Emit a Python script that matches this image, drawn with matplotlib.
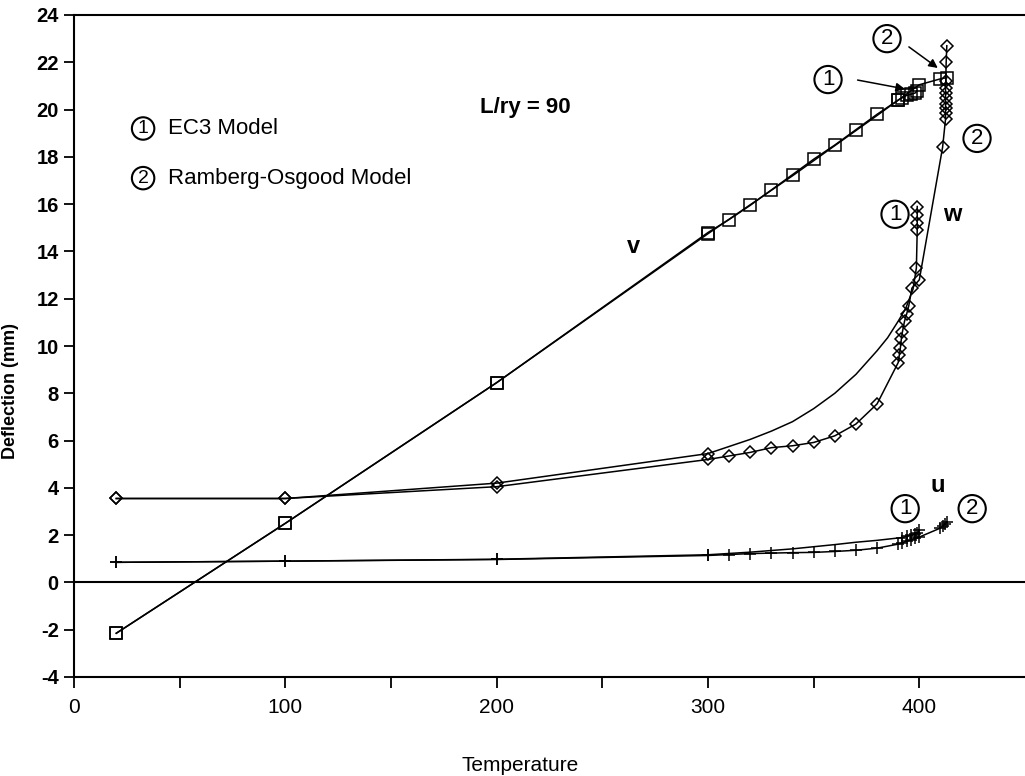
import matplotlib
matplotlib.use("Agg")
import matplotlib.pyplot as plt

plt.rcParams["font.family"] = ["Liberation Sans", "DejaVu Sans"]
plt.rcParams["axes.unicode_minus"] = False

# ---- data -------------------------------------------------------------
# lateral deflection v (squares)
temp_v_ro = [20, 100, 200, 300, 310, 320, 330, 340, 350, 360, 370, 380, 390, 400, 410, 413]
v_ro = [-2.15, 2.5, 8.45, 14.8, 15.35, 15.95, 16.6, 17.25, 17.9, 18.5, 19.15, 19.8, 20.4, 21.05, 21.3, 21.35]

temp_v_ec3 = [20, 100, 200, 300, 340, 380, 390, 392, 394, 396, 398, 399]
v_ec3 = [-2.15, 2.5, 8.45, 14.75, 17.2, 19.75, 20.4, 20.5, 20.6, 20.65, 20.7, 20.8]
v_ec3_marks = [0, 1, 2, 3, 6, 7, 8, 9, 10, 11]

# vertical deflection w (diamonds)
temp_w_ro = [20, 100, 200, 300, 310, 320, 330, 340, 350, 360, 370, 380, 390,
             390.5, 391, 391.5, 392, 393, 394, 395, 396.5, 400, 411,
             412.4, 412.4, 412.4, 412.4, 412.4, 412.4, 412.4, 412.5, 412.7, 413]
w_ro = [3.55, 3.55, 4.05, 5.2, 5.35, 5.5, 5.7, 5.78, 5.92, 6.2, 6.7, 7.55, 9.3,
        9.6, 9.9, 10.3, 10.6, 11.05, 11.35, 11.7, 12.45, 12.8, 18.4,
        19.6, 19.85, 20.05, 20.25, 20.5, 20.7, 20.9, 21.2, 22.0, 22.7]

temp_w_ec3 = [20, 100, 200, 300, 310, 320, 330, 340, 350, 360, 370, 375, 380, 385,
              390, 393.6, 397, 398.6, 399, 399, 399, 399]
w_ec3 = [3.55, 3.55, 4.2, 5.45, 5.75, 6.05, 6.4, 6.8, 7.35, 8.0, 8.8, 9.3, 9.8, 10.35,
         11.05, 11.6, 12.4, 13.3, 14.9, 15.2, 15.55, 15.9]
w_ec3_marks = [0, 1, 2, 3, 17, 18, 19, 20, 21]

# axial deflection u (crosses)
temp_u_ro = [20, 100, 200, 300, 310, 320, 330, 340, 350, 360, 370, 380, 390, 392,
             394, 396, 398, 400, 410, 411, 412, 413]
u_ro = [0.85, 0.9, 0.97, 1.14, 1.18, 1.22, 1.24, 1.26, 1.27, 1.31, 1.36, 1.45, 1.62, 1.68,
        1.74, 1.8, 1.86, 1.92, 2.3, 2.38, 2.46, 2.55]

temp_u_ec3 = [20, 100, 200, 300, 320, 340, 360, 370, 380, 392, 394, 396, 398, 399, 400]
u_ec3 = [0.85, 0.9, 0.98, 1.17, 1.28, 1.42, 1.6, 1.7, 1.78, 1.9, 1.95, 2.0, 2.05, 2.1, 2.2]
u_ec3_marks = [0, 1, 2, 3, 9, 10, 11, 12, 13, 14]

x_ticks = [0, 50, 100, 150, 200, 250, 300, 350, 400]
x_labels = ["0", "", "100", "", "200", "", "300", "", "400"]
y_ticks = list(range(-4, 25, 2))

# ---- figure -----------------------------------------------------------
fig = plt.figure(figsize=(10.25, 7.76), dpi=100)
ax = fig.add_axes([74 / 1025, 1 - 677 / 776, 1 - 74 / 1025, (677 - 15) / 776])
ax.set_xlim(0, 450)
ax.set_ylim(-4, 24)

line_kw = dict(color="black", lw=1.1, markerfacecolor="none",
               markeredgecolor="black", markeredgewidth=1.1)

ax.plot(temp_v_ro, v_ro, marker="s", ms=9, **line_kw)
ax.plot(temp_v_ec3, v_ec3, marker="s", ms=9, markevery=v_ec3_marks, **line_kw)
ax.plot(temp_w_ro, w_ro, marker="D", ms=6, **line_kw)
ax.plot(temp_w_ec3, w_ec3, marker="D", ms=6, markevery=w_ec3_marks, **line_kw)
ax.plot(temp_u_ro, u_ro, marker="+", ms=9, **line_kw)
ax.plot(temp_u_ec3, u_ec3, marker="+", ms=9, markevery=u_ec3_marks, **line_kw)

ax.axhline(0, color="black", lw=1.5)

# ---- axes styling -----------------------------------------------------
for side in ("top", "bottom", "left"):
    ax.spines[side].set_linewidth(1.5)
ax.spines["right"].set_visible(False)

ax.set_xticks(x_ticks)
ax.set_xticklabels(x_labels)
ax.set_yticks(y_ticks)
ax.tick_params(axis="x", direction="out", length=8, width=1.3, labelsize=15, pad=7)
ax.tick_params(axis="y", direction="out", length=7, width=1.3, labelsize=14.5, pad=4)
for lbl in ax.get_yticklabels():
    lbl.set_fontweight("bold")

ax.set_xlabel("Temperature", fontsize=15)
ax.xaxis.set_label_coords(0.469, -0.12)
ax.set_ylabel("Deflection (mm)", fontsize=13, fontweight="bold")
ax.yaxis.set_label_coords(-0.058, 0.432)

# ---- annotations ------------------------------------------------------
def circled(x, y, s, size=16):
    ax.text(x, y, s, ha="center", va="center", fontsize=size,
            bbox=dict(boxstyle="circle,pad=0.14", fc="none", ec="black", lw=1.5))

circled(32.7, 19.2, "1", 14)
ax.text(44.5, 19.2, "EC3 Model", ha="left", va="center", fontsize=16)
circled(32.7, 17.1, "2", 14)
ax.text(44.5, 17.1, "Ramberg-Osgood Model", ha="left", va="center", fontsize=16)

ax.text(213.4, 20.1, "L/ry = 90", ha="center", va="center", fontsize=16, fontweight="bold")

bold_kw = dict(ha="center", va="center", fontsize=17, fontweight="bold")
ax.text(264.5, 14.2, "v", **bold_kw)
ax.text(415.5, 15.57, "w", **bold_kw)
ax.text(408.9, 4.09, "u", **bold_kw)

circled(356.8, 21.27, "1")
ax.annotate("", xy=(394.5, 20.85), xytext=(369.5, 21.27),
            arrowprops=dict(arrowstyle="-|>", color="black", lw=1.1, mutation_scale=13))
circled(384.7, 23.0, "2")
ax.annotate("", xy=(409.8, 21.69), xytext=(394.0, 22.72),
            arrowprops=dict(arrowstyle="-|>", color="black", lw=1.1, mutation_scale=13))
circled(427.3, 18.78, "2")
circled(388.5, 15.57, "1")
circled(393.3, 3.12, "1")
circled(425.0, 3.12, "2")

fig.savefig("out.png", dpi=100)
